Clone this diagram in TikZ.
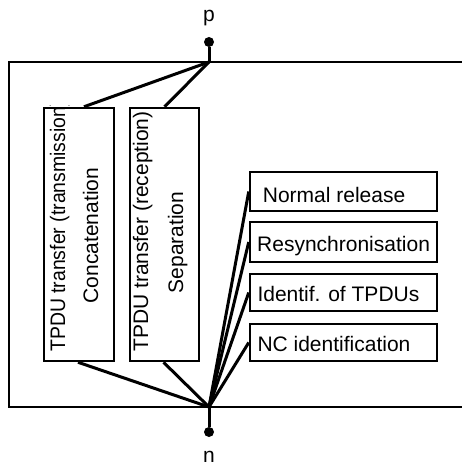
\documentclass[tikz,border=0pt]{standalone}
\usepackage{fontspec}
\setmainfont{Liberation Sans}
\begin{document}
\begin{tikzpicture}[x=1pt,y=-1pt,
  funcbox/.style={draw,line width=2.5pt,inner sep=0pt},
  lbl/.style={inner sep=0pt,font=\fontsize{21}{25}\selectfont},
  wire/.style={line width=3pt},
  dotpt/.style={circle,fill,inner sep=0pt,minimum size=10pt}]
\useasboundingbox (0,0) rectangle (462,468);
% outer entity frame (open on the right)
\draw[line width=2pt] (462,62) -- (9,62) -- (9,407) -- (462,407);
% service access points
\coordinate (pj) at (209,62);
\coordinate (nj) at (209,407);
\node[dotpt] (p) at (209,42) {};
\node[dotpt] (n) at (209,432) {};
\node[lbl] (plbl) at (209,18) {p};
\node[lbl] (nlbl) at (209,457) {n};
\draw[wire] (p) -- (pj);
\draw[wire] (n) -- (nj);
% texts of the vertical function boxes
\begin{scope}
  \clip (40,106) rectangle (120,365);
  \node[lbl,rotate=90,anchor=base west] (txa) at (65,352)
    {\scalebox{0.925}[1]{TPDU transfer (transmission)}};
\end{scope}
\node[lbl,rotate=90,anchor=base] (txb) at (98,235.5) {Concatenation};
\node[lbl,rotate=90,anchor=base west] (rxa) at (148,352) {TPDU transfer (reception)};
\node[lbl,rotate=90,anchor=base] (rxb) at (183,242.5) {Separation};
% vertical function boxes
\node[funcbox,minimum width=70pt,minimum height=253pt] (tx) at (79,234.5) {};
\node[funcbox,minimum width=69pt,minimum height=253pt] (rx) at (164.5,234.5) {};
% horizontal function boxes
\node[funcbox,minimum width=187pt,minimum height=39pt] (nr) at (343.5,191.5) {};
\node[funcbox,minimum width=187pt,minimum height=40pt] (rs) at (343.5,242) {};
\node[funcbox,minimum width=187pt,minimum height=37pt] (id) at (343.5,292.5) {};
\node[funcbox,minimum width=187pt,minimum height=37pt] (nc) at (343.5,342.5) {};
\node[lbl,anchor=base west] (nrt) at (262.7,202.3) {Normal release};
\node[lbl,anchor=base west] (rst) at (257,251) {Resynchronisation};
\node[lbl,anchor=base west] (idt) at (257.3,301) {Identif. of TPDUs};
\node[lbl,anchor=base west] (nct) at (257.3,351) {NC identification};
% connections to the access points
\draw[wire] (pj) -- ([xshift=5pt]tx.north);
\draw[wire] (pj) -- (rx.north);
\draw[wire] (nj) -- ([xshift=-1pt]tx.south);
\draw[wire] (nj) -- ([xshift=-1pt]rx.south);
\draw[wire] (nj) -- (nr.west);
\draw[wire] (nj) -- (rs.west);
\draw[wire] (nj) -- (id.west);
\draw[wire] (nj) -- (nc.west);
\end{tikzpicture}
\end{document}
